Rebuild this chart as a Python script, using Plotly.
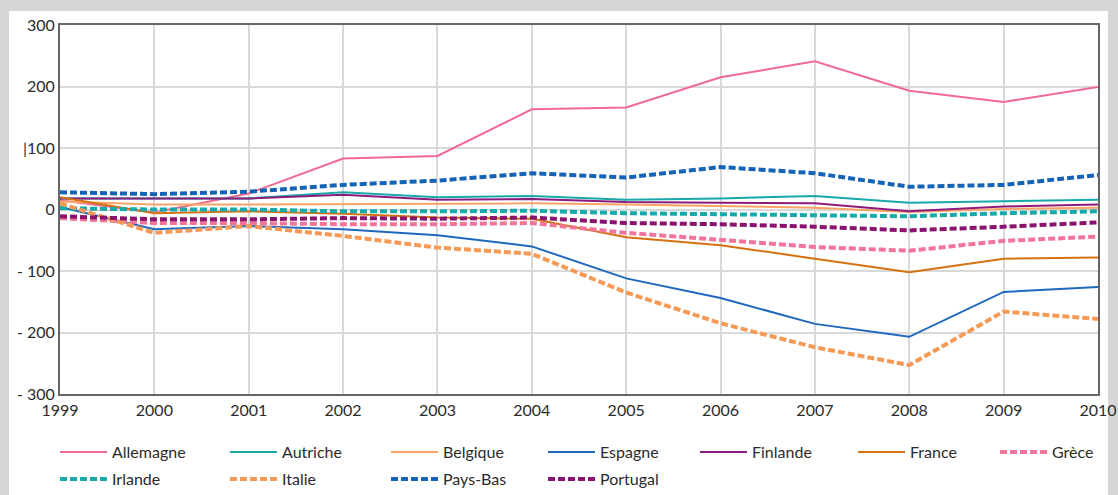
import plotly.graph_objects as go

years = [1999, 2000, 2001, 2002, 2003, 2004, 2005, 2006, 2007, 2008, 2009, 2010]

allemagne = [15, -5, 26, 83, 87, 163, 166, 215, 241, 193, 175, 199]
autriche = [18, 18, 18, 28, 20, 22, 16, 18, 22, 11, 13, 16]
belgique = [13, 8, 8, 9, 9, 10, 8, 5, 3, -4, 1, 3]
espagne = [4, -32, -27, -32, -42, -60, -112, -144, -186, -207, -134, -126]
finlande = [18, 18, 18, 24, 16, 17, 12, 11, 10, -3, 5, 8]
france = [20, -6, -3, -7, -13, -15, -45, -58, -80, -102, -80, -78]
grece = [-14, -22, -22, -24, -24, -22, -38, -49, -61, -67, -51, -44]
irlande = [2, 0, 0, -3, -3, -2, -6, -8, -10, -11, -6, -3]
italie = [10, -38, -27, -43, -62, -72, -135, -185, -224, -253, -166, -178]
pays_bas = [28, 25, 29, 40, 47, 59, 52, 69, 59, 37, 40, 56]
portugal = [-11, -16, -16, -14, -15, -13, -22, -24, -28, -34, -28, -21]

ytick_vals = [300, 200, 100, 0, -100, -200, -300]
ytick_text = ["300", "200", "|100", "0", "- 100", "- 200", "- 300"]

series = [
    ("Allemagne", allemagne, "#f06a92", "solid"),
    ("Autriche", autriche, "#19a9aa", "solid"),
    ("Belgique", belgique, "#f8a465", "solid"),
    ("Espagne", espagne, "#1f68bd", "solid"),
    ("Finlande", finlande, "#8c1c7c", "solid"),
    ("France", france, "#d5720f", "solid"),
    ("Grèce", grece, "#f27499", "dash"),
    ("Irlande", irlande, "#17aaaa", "dash"),
    ("Italie", italie, "#f59a56", "dash"),
    ("Pays-Bas", pays_bas, "#1463b6", "dash"),
    ("Portugal", portugal, "#8a136f", "dash"),
]

# legend slot pixel positions (start of legend line, row centre)
legend_cols = [60, 230, 391, 548, 700, 858, 1000]
legend_rows = [451, 478]

def px_x(p):
    return (p - 60) / 1038.0

def px_y(p):
    return (394 - p) / 369.0

fig = go.Figure()
legend_layouts = {}
for i, (name, vals, color, style) in enumerate(series):
    if style == "solid":
        line = dict(color=color, width=2)
    else:
        line = dict(color=color, width=4, dash="7px,3px")
    leg = "legend" if i == 0 else "legend%d" % (i + 1)
    fig.add_trace(go.Scatter(x=years, y=vals, name=name, mode="lines",
                             line=line, legend=leg))
    col = i % 7
    row = i // 7
    legend_layouts[leg] = dict(
        x=px_x(legend_cols[col] - 5),
        y=px_y(legend_rows[row] - 16),
        xanchor="left", yanchor="top",
        orientation="h",
        font=dict(size=16, color="#2b2b2b"),
        bgcolor="rgba(0,0,0,0)",
        itemwidth=47,
    )

fig.update_layout(
    width=1118,
    height=495,
    margin=dict(l=60, r=20, t=25, b=101, autoexpand=False),
    paper_bgcolor="#d6d6d6",
    plot_bgcolor="white",
    font=dict(family="Lato, 'Open Sans', sans-serif", color="#2b2b2b", size=16),
    shapes=[
        dict(type="rect", xref="paper", yref="paper",
             x0=px_x(9), x1=px_x(1108), y0=px_y(500), y1=px_y(11),
             fillcolor="white", line=dict(width=0), layer="below"),
    ],
    showlegend=True,
    xaxis=dict(
        range=[1999, 2010],
        tickvals=years,
        ticktext=[str(y) for y in years],
        showgrid=True, gridcolor="#d9d9d9", gridwidth=1.5,
        showline=True, linecolor="#666666", linewidth=2, mirror=True,
        zeroline=False, ticks="", tickfont=dict(size=16),
        ticklabelstandoff=1,
    ),
    yaxis=dict(
        range=[-300, 300],
        tickvals=ytick_vals,
        ticktext=ytick_text,
        showgrid=True, gridcolor="#d9d9d9", gridwidth=1.5,
        showline=True, linecolor="#666666", linewidth=2, mirror=True,
        zeroline=False, ticks="", tickfont=dict(size=16),
    ),
    **legend_layouts,
)

fig.write_html(
    "out.html",
    config={"displayModeBar": False},
    post_script="document.body.style.margin='0';document.body.style.background='#d6d6d6';",
)
